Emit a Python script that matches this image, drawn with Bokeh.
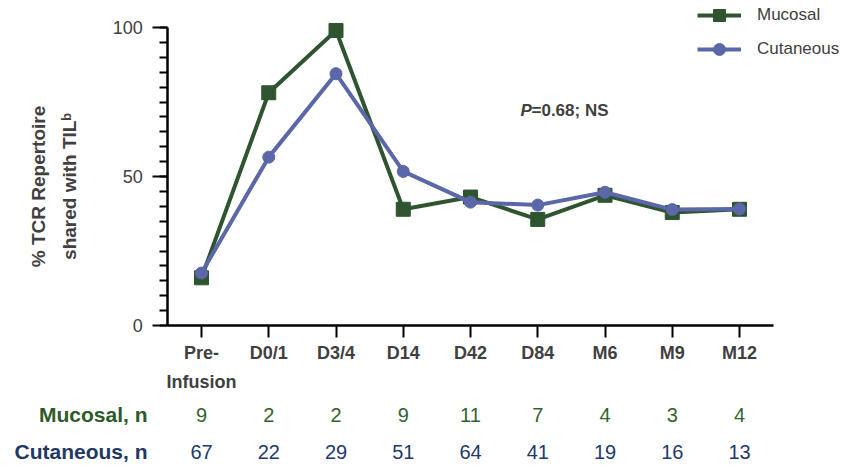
import math
from bokeh.plotting import figure
from bokeh.models import (Legend, LegendItem, Label, LabelSet, ColumnDataSource,
                          FixedTicker, SingleIntervalTicker, Range1d)
from bokeh.core.properties import value
from bokeh.embed import file_html
from bokeh.resources import INLINE

# ---- data ----
timepoints = ["Pre-\nInfusion", "D0/1", "D3/4", "D14", "D42", "D84", "M6", "M9", "M12"]
mucosal = [16.0, 78.1, 99.0, 39.0, 43.1, 35.6, 43.7, 37.9, 39.0]
cutaneous = [17.6, 56.5, 84.5, 51.7, 41.4, 40.4, 44.7, 38.9, 39.1]
mucosal_n = [9, 2, 2, 9, 11, 7, 4, 3, 4]
cutaneous_n = [67, 22, 29, 51, 64, 41, 19, 16, 13]

GREEN = "#2f5530"
BLUE = "#5a67a8"
GREEN_TXT = "#35622f"
NAVY_TXT = "#22396b"
TXT = "#404040"
FONT = "Liberation Sans"

# ---- layout (canvas px) ----
W, H = 847, 465
X0 = 201.0          # canvas x of first category
XS = 67.25          # px per category
Y0 = 325.0          # canvas y of value 0
YS = 2.98           # px per value unit

def cx(px):         # canvas x -> data x
    return (px - X0) / XS

def cy(py):         # canvas y -> data y
    return (Y0 - py) / YS

xs = list(range(len(timepoints)))

p = figure(width=W, height=H, output_backend="svg", toolbar_location=None,
           x_range=Range1d(cx(0), cx(W)), y_range=Range1d(cy(H), cy(0)),
           min_border=0, min_border_left=0, min_border_right=0,
           min_border_top=0, min_border_bottom=0)
p.outline_line_color = None
p.xgrid.visible = False
p.ygrid.visible = False

# ---- series ----
lm = p.line(xs, mucosal, line_color=GREEN, line_width=4)
sm = p.scatter(xs, mucosal, marker="square", size=14, fill_color=GREEN, line_color=GREEN)
lc = p.line(xs, cutaneous, line_color=BLUE, line_width=4)
sc = p.scatter(xs, cutaneous, marker="circle", size=12, fill_color=BLUE, line_color=BLUE)

# ---- axes ----
ya = p.yaxis[0]
ya.fixed_location = -0.5
ya.bounds = (0, 100)
ya.ticker = SingleIntervalTicker(interval=50, num_minor_ticks=10)
ya.axis_line_width = 2.5
ya.axis_line_color = "black"
ya.major_tick_line_width = 2
ya.minor_tick_line_width = 2
ya.major_tick_out = 15
ya.major_tick_in = 0
ya.minor_tick_out = 8
ya.minor_tick_in = 0
ya.major_label_text_font = FONT
ya.major_label_text_font_size = "18px"
ya.major_label_text_color = TXT
ya.major_label_standoff = 10

xa = p.xaxis[0]
xa.fixed_location = 0
xa.bounds = (-0.5, 8.5)
xa.ticker = FixedTicker(ticks=xs, minor_ticks=[])
xa.major_label_overrides = {i: t for i, t in enumerate(timepoints)}
xa.axis_line_width = 2.5
xa.axis_line_color = "black"
xa.major_tick_line_width = 2
xa.major_tick_out = 12
xa.major_tick_in = 0
xa.minor_tick_out = 0
xa.minor_tick_in = 0
xa.major_label_text_font = FONT
xa.major_label_text_font_style = "bold"
xa.major_label_text_font_size = "18px"
xa.major_label_text_line_height = 1.45
xa.major_label_text_color = TXT
xa.major_label_standoff = 5

# y-axis title
p.add_layout(Label(x=cx(53.5), y=cy(186), text="% TCR Repertoire\nshared with TIL\u1d47",
                   angle=math.pi / 2, text_align="center", text_baseline="middle",
                   text_font=FONT, text_font_style="bold", text_font_size="19px",
                   text_line_height=1.5, text_color=TXT))

# ---- legend ----
legend = Legend(items=[LegendItem(label="Mucosal", renderers=[lm, sm]),
                       LegendItem(label="Cutaneous", renderers=[lc, sc])],
                location=(697, H - 64), orientation="vertical",
                glyph_width=44, glyph_height=30, label_height=30, spacing=4,
                label_standoff=16, padding=0, margin=0,
                border_line_color=None, background_fill_alpha=0,
                label_text_font=FONT, label_text_font_size="17px",
                label_text_color=TXT)
p.add_layout(legend, "center")

# ---- annotation ----
ax, ay = cx(520), cy(110)
p.add_layout(Label(x=ax, y=ay, text="P", text_font=FONT,
                   text_font_style="bold italic", text_font_size="17px",
                   text_color=TXT, text_baseline="middle", text_align="left"))
p.add_layout(Label(x=ax, y=ay, x_offset=11, text="=0.68; NS", text_font=FONT,
                   text_font_style="bold", text_font_size="17px",
                   text_color=TXT, text_baseline="middle", text_align="left"))

# ---- n table below axis ----
row_m = cy(414)
row_c = cy(451)
src = ColumnDataSource(dict(x=xs, ym=[row_m] * len(xs), yc=[row_c] * len(xs),
                            tm=[str(v) for v in mucosal_n], tc=[str(v) for v in cutaneous_n]))
p.add_layout(LabelSet(x="x", y="ym", text="tm", source=src, text_align="center",
                      text_baseline="middle", text_font=value(FONT),
                      text_font_size=value("20px"), text_color=GREEN_TXT))
p.add_layout(LabelSet(x="x", y="yc", text="tc", source=src, text_align="center",
                      text_baseline="middle", text_font=value(FONT),
                      text_font_size=value("20px"), text_color=NAVY_TXT))
lx = cx(147)
p.add_layout(Label(x=lx, y=row_m, text="Mucosal, n", text_font=FONT,
                   text_font_style="bold", text_font_size="21px", text_color="#2e5a2a",
                   text_baseline="middle", text_align="right"))
p.add_layout(Label(x=lx, y=row_c, text="Cutaneous, n", text_font=FONT,
                   text_font_style="bold", text_font_size="21px", text_color="#1f3864",
                   text_baseline="middle", text_align="right"))

open("out.html", "w").write(file_html(p, INLINE))
